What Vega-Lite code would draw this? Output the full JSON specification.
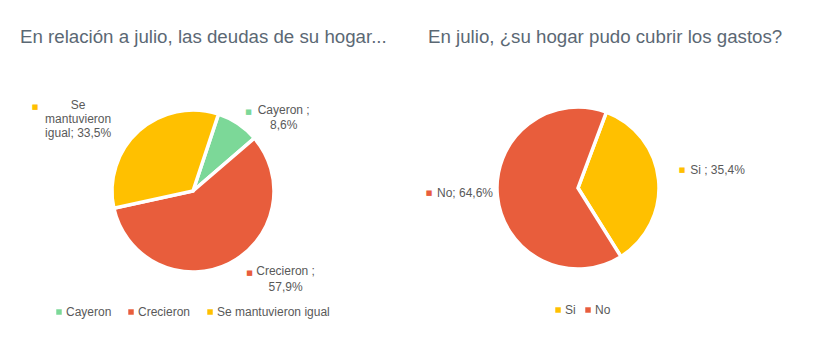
{
  "$schema": "https://vega.github.io/schema/vega-lite/v6.json",
  "background": "white",
  "padding": {"left": 20, "top": 28, "right": 5, "bottom": 5},
  "bounds": "flush",
  "spacing": 62,
  "config": {
    "view": {"stroke": null},
    "font": "Liberation Sans",
    "title": {"fontSize": 18.7, "fontWeight": "normal", "color": "#5B6874", "anchor": "start", "frame": "group", "offset": 45},
    "legend": {"labelFontSize": 12, "labelColor": "#595959", "labelFont": "Liberation Sans", "symbolType": "square", "symbolSize": 30, "symbolStrokeWidth": 0, "labelOffset": 1}
  },
  "resolve": {"scale": {"color": "independent", "theta": "independent"}, "legend": {"color": "independent"}},
  "hconcat": [
    {
      "width": 346,
      "height": 198,
      "title": "En relación a julio, las deudas de su hogar...",
      "data": {"values": [
        {"cat": "Cayeron", "value": 8.6, "label": "Cayeron ;\n8,6%"},
        {"cat": "Crecieron", "value": 57.9, "label": "Crecieron ;\n57,9%"},
        {"cat": "Se mantuvieron igual", "value": 33.5, "label": "Se\nmantuvieron\nigual; 33,5%"}
      ]},
      "transform": [
        {"stack": "value", "groupby": [], "as": ["v0", "v1"]},
        {"calculate": "(datum.v0 + datum.v1) / 2", "as": "mid"}
      ],
      "layer": [
        {
          "mark": {"type": "arc", "outerRadius": 81, "stroke": "white", "strokeWidth": 3.5},
          "encoding": {
            "theta": {"field": "v0", "type": "quantitative", "stack": null, "scale": {"domain": [0, 100], "range": [0.32, 6.6032]}},
            "theta2": {"field": "v1"},
            "color": {"field": "cat", "type": "nominal",
              "scale": {"domain": ["Cayeron", "Crecieron", "Se mantuvieron igual"], "range": ["#7CD898", "#E85D3C", "#FFC000"]},
              "legend": {"orient": "none", "legendX": 33, "legendY": 214, "direction": "horizontal", "title": null, "columnPadding": 13}}
          }
        },
        {
          "transform": [{"filter": "datum.cat === 'Cayeron'"}],
          "mark": {"type": "text", "radius": 100, "dx": 35, "dy": 2.5, "align": "center", "baseline": "middle", "fontSize": 12, "lineHeight": 15, "lineBreak": "\n", "color": "#595959"},
          "encoding": {"theta": {"field": "mid", "type": "quantitative"}, "text": {"field": "label"}}
        },
        {
          "transform": [{"filter": "datum.cat === 'Cayeron'"}],
          "mark": {"type": "text", "radius": 100, "dx": 0, "dy": 4.5, "align": "center", "baseline": "middle", "fontSize": 7, "font": "DejaVu Sans", "color": "#7CD898"},
          "encoding": {"theta": {"field": "mid", "type": "quantitative"}, "text": {"value": "■"}}
        },
        {
          "transform": [{"filter": "datum.cat === 'Crecieron'"}],
          "mark": {"type": "text", "radius": 100, "dx": 48, "dy": -9.5, "align": "center", "baseline": "middle", "fontSize": 12, "lineHeight": 16, "lineBreak": "\n", "color": "#595959"},
          "encoding": {"theta": {"field": "mid", "type": "quantitative"}, "text": {"field": "label"}}
        },
        {
          "transform": [{"filter": "datum.cat === 'Crecieron'"}],
          "mark": {"type": "text", "radius": 100, "dx": 12, "dy": -8, "align": "center", "baseline": "middle", "fontSize": 7, "font": "DejaVu Sans", "color": "#E85D3C"},
          "encoding": {"theta": {"field": "mid", "type": "quantitative"}, "text": {"value": "■"}}
        },
        {
          "transform": [{"filter": "datum.cat === 'Se mantuvieron igual'"}],
          "mark": {"type": "text", "radius": 100, "dx": -48, "dy": -11.5, "align": "center", "baseline": "middle", "fontSize": 12, "lineHeight": 14, "lineBreak": "\n", "color": "#595959"},
          "encoding": {"theta": {"field": "mid", "type": "quantitative"}, "text": {"field": "label"}}
        },
        {
          "transform": [{"filter": "datum.cat === 'Se mantuvieron igual'"}],
          "mark": {"type": "text", "radius": 100, "dx": -91, "dy": -10, "align": "center", "baseline": "middle", "fontSize": 7, "font": "DejaVu Sans", "color": "#FFC000"},
          "encoding": {"theta": {"field": "mid", "type": "quantitative"}, "text": {"value": "■"}}
        }
      ]
    },
    {
      "width": 300,
      "height": 192,
      "title": "En julio, ¿su hogar pudo cubrir los gastos?",
      "data": {"values": [
        {"cat": "Si", "value": 35.4, "label": "Si ; 35,4%"},
        {"cat": "No", "value": 64.6, "label": "No; 64,6%"}
      ]},
      "transform": [
        {"stack": "value", "groupby": [], "as": ["v0", "v1"]},
        {"calculate": "(datum.v0 + datum.v1) / 2", "as": "mid"}
      ],
      "layer": [
        {
          "mark": {"type": "arc", "outerRadius": 81, "stroke": "white", "strokeWidth": 3.5},
          "encoding": {
            "theta": {"field": "v0", "type": "quantitative", "stack": null, "scale": {"domain": [0, 100], "range": [0.358, 6.6412]}},
            "theta2": {"field": "v1"},
            "color": {"field": "cat", "type": "nominal",
              "scale": {"domain": ["Si", "No"], "range": ["#FFC000", "#E85D3C"]},
              "legend": {"orient": "none", "legendX": 124, "legendY": 212, "direction": "horizontal", "title": null, "columnPadding": 6}}
          }
        },
        {
          "transform": [{"filter": "datum.cat === 'Si'"}],
          "mark": {"type": "text", "radius": 100, "dx": 40, "dy": -8, "align": "center", "baseline": "middle", "fontSize": 12, "color": "#595959"},
          "encoding": {"theta": {"field": "mid", "type": "quantitative"}, "text": {"field": "label"}}
        },
        {
          "transform": [{"filter": "datum.cat === 'Si'"}],
          "mark": {"type": "text", "radius": 100, "dx": 4.5, "dy": -8, "align": "center", "baseline": "middle", "fontSize": 7, "font": "DejaVu Sans", "color": "#FFC000"},
          "encoding": {"theta": {"field": "mid", "type": "quantitative"}, "text": {"value": "■"}}
        },
        {
          "transform": [{"filter": "datum.cat === 'No'"}],
          "mark": {"type": "text", "radius": 100, "dx": -13.5, "dy": -5, "align": "center", "baseline": "middle", "fontSize": 12, "color": "#595959"},
          "encoding": {"theta": {"field": "mid", "type": "quantitative"}, "text": {"field": "label"}}
        },
        {
          "transform": [{"filter": "datum.cat === 'No'"}],
          "mark": {"type": "text", "radius": 100, "dx": -49.5, "dy": -5, "align": "center", "baseline": "middle", "fontSize": 7, "font": "DejaVu Sans", "color": "#E85D3C"},
          "encoding": {"theta": {"field": "mid", "type": "quantitative"}, "text": {"value": "■"}}
        }
      ]
    }
  ]
}
